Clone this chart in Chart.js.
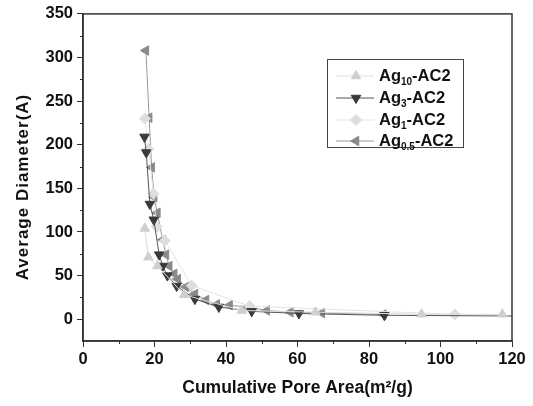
<!DOCTYPE html>
<html>
<head>
<meta charset="utf-8">
<script src="https://cdn.jsdelivr.net/npm/chart.js@4.4.0/dist/chart.umd.min.js"></script>
<style>
  html, body { margin: 0; padding: 0; background: #fff; }
  #wrap { width: 533px; height: 406px; }
</style>
</head>
<body>
<div id="wrap"><canvas id="c" width="533" height="406"></canvas></div>
<script>
// series: [cumulative pore area, average diameter]
const ag10 = [[17.3, 104], [18.3, 71], [20.8, 61], [28.3, 28], [44.4, 10], [65, 8], [94.7, 5.7], [117.3, 5.7]];
const ag3 = [[17.2, 209], [17.7, 191], [18.7, 132], [19.8, 114], [21.3, 74], [22.3, 61], [23.6, 50], [26.2, 38],
  [31.3, 23], [38, 14], [47.2, 9], [60.4, 6.5], [84.3, 4.5], [126, 3.5]];
const ag1 = [[17.3, 230], [18.3, 195], [19.7, 144], [20.6, 106], [22.9, 90], [30.4, 38.5], [46.6, 15], [104, 5.5]];
const ag05 = [[17.6, 308], [18.5, 231], [19.2, 174], [19.9, 140], [20.8, 122], [22.3, 91], [23.2, 74], [24.1, 61],
  [25.5, 52], [26.5, 46], [28.8, 37], [31.3, 29], [34.4, 22], [37.4, 17], [41, 16], [46, 14], [51.4, 10],
  [58, 8], [66.8, 7], [84, 5.5]];

const xTicks = [0, 20, 40, 60, 80, 100, 120];
const yTicks = [0, 50, 100, 150, 200, 250, 300, 350];
const xMinor = [10, 30, 50, 70, 90, 110];
const yMinor = [25, 75, 125, 175, 225, 275, 325];

// legend labels: base, subscript, rest
const legendItems = [
  ['Ag', '10', '-AC2'],
  ['Ag', '3', '-AC2'],
  ['Ag', '1', '-AC2'],
  ['Ag', '0.5', '-AC2']
];

const toXY = arr => arr.map(p => ({ x: p[0], y: p[1] }));
const AXIS = '#333';
const FONT = '"Liberation Sans", Arial, sans-serif';

// box around the plot, minor ticks, axis titles and the legend
const framePlugin = {
  id: 'frame',
  afterDraw(chart) {
    const ctx = chart.ctx;
    const a = chart.chartArea;
    const xs = chart.scales.x, ys = chart.scales.y;
    ctx.save();
    ctx.strokeStyle = AXIS;
    ctx.lineWidth = 1.5;
    ctx.strokeRect(a.left, a.top, a.right - a.left, a.bottom - a.top);
    ctx.lineWidth = 1;
    ctx.beginPath();
    xMinor.forEach(v => {
      const px = Math.round(xs.getPixelForValue(v)) + 0.5;
      ctx.moveTo(px, a.bottom); ctx.lineTo(px, a.bottom + 3);
    });
    yMinor.forEach(v => {
      const py = Math.round(ys.getPixelForValue(v)) + 0.5;
      ctx.moveTo(a.left, py); ctx.lineTo(a.left - 3, py);
    });
    ctx.stroke();

    // axis titles
    ctx.fillStyle = '#111';
    ctx.textAlign = 'center';
    ctx.textBaseline = 'middle';
    ctx.font = 'bold 17.5px ' + FONT;
    ctx.fillText('Cumulative Pore Area(m²/g)', (a.left + a.right) / 2, 388);
    ctx.save();
    ctx.translate(23, 187);
    ctx.rotate(-Math.PI / 2);
    ctx.letterSpacing = '1px';
    ctx.font = 'bold 17px ' + FONT;
    ctx.fillText('Average Diameter(A)', 0, 0);
    ctx.restore();

    // legend
    const bx = 327, by = 59, bw = 136, bh = 88;
    ctx.lineWidth = 1;
    ctx.strokeStyle = '#444';
    ctx.strokeRect(bx + 0.5, by + 0.5, bw, bh);
    const rowY = [76, 98, 120, 141];
    chart.data.datasets.forEach((ds, i) => {
      const y = rowY[i];
      ctx.strokeStyle = ds.borderColor;
      ctx.lineWidth = 1;
      ctx.beginPath();
      ctx.moveTo(336, y); ctx.lineTo(374, y);
      ctx.stroke();
      ctx.fillStyle = ds.pointBackgroundColor;
      ctx.strokeStyle = ds.pointBorderColor;
      Chart.helpers.drawPoint(ctx, {
        pointStyle: ds.pointStyle, radius: ds.pointRadius, rotation: ds.pointRotation || 0, borderWidth: 1
      }, 356, y);
      const it = legendItems[i];
      let tx = 379;
      ctx.fillStyle = '#111';
      ctx.textAlign = 'left';
      ctx.textBaseline = 'middle';
      ctx.font = 'bold 16.5px ' + FONT;
      ctx.fillText(it[0], tx, y);
      tx += ctx.measureText(it[0]).width;
      ctx.font = 'bold 10px ' + FONT;
      ctx.fillText(it[1], tx, y + 6);
      tx += ctx.measureText(it[1]).width;
      ctx.font = 'bold 16.5px ' + FONT;
      ctx.fillText(it[2], tx, y);
    });
    ctx.restore();
  }
};

function series(label, data, color, lineColor, style, rotation) {
  return {
    label, data: toXY(data),
    borderColor: lineColor,
    backgroundColor: color,
    pointBackgroundColor: color,
    pointBorderColor: color,
    pointStyle: style,
    pointRotation: rotation,
    pointRadius: 5.5,
    pointBorderWidth: 1,
    borderWidth: 1,
    showLine: true,
    tension: 0
  };
}

new Chart(document.getElementById('c'), {
  type: 'scatter',
  data: {
    datasets: [
      series('Ag10-AC2', ag10, '#cfcfcf', '#dcdcdc', 'triangle', 0),
      series('Ag3-AC2', ag3, '#3a3a3a', '#555555', 'triangle', 180),
      series('Ag1-AC2', ag1, '#dedede', '#e4e4e4', 'rectRot', 0),
      series('Ag0.5-AC2', ag05, '#8a8a8a', '#9a9a9a', 'triangle', 270)
    ]
  },
  options: {
    responsive: false,
    animation: false,
    layout: { padding: { top: 11, right: 21, left: 0, bottom: 0 } },
    plugins: { legend: { display: false }, tooltip: { enabled: false } },
    scales: {
      x: {
        type: 'linear', min: 0, max: 120,
        afterBuildTicks: s => { s.ticks = xTicks.map(v => ({ value: v })); },
        afterFit: s => { s.height = 65; },
        grid: { drawOnChartArea: false, drawTicks: true, tickLength: 6, color: AXIS, lineWidth: 1 },
        border: { display: true, color: AXIS, width: 1.5 },
        ticks: { color: '#111', padding: 3, maxRotation: 0, font: { family: FONT, size: 16.5, weight: 'bold' } }
      },
      y: {
        type: 'linear', min: -25, max: 350,
        afterBuildTicks: s => { s.ticks = yTicks.map(v => ({ value: v })); },
        afterFit: s => { s.width = 83; },
        grid: { drawOnChartArea: false, drawTicks: true, tickLength: 6, color: AXIS, lineWidth: 1 },
        border: { display: true, color: AXIS, width: 1.5 },
        ticks: { color: '#111', padding: 4, font: { family: FONT, size: 16.5, weight: 'bold' } }
      }
    }
  },
  plugins: [framePlugin]
});
</script>
</body>
</html>
